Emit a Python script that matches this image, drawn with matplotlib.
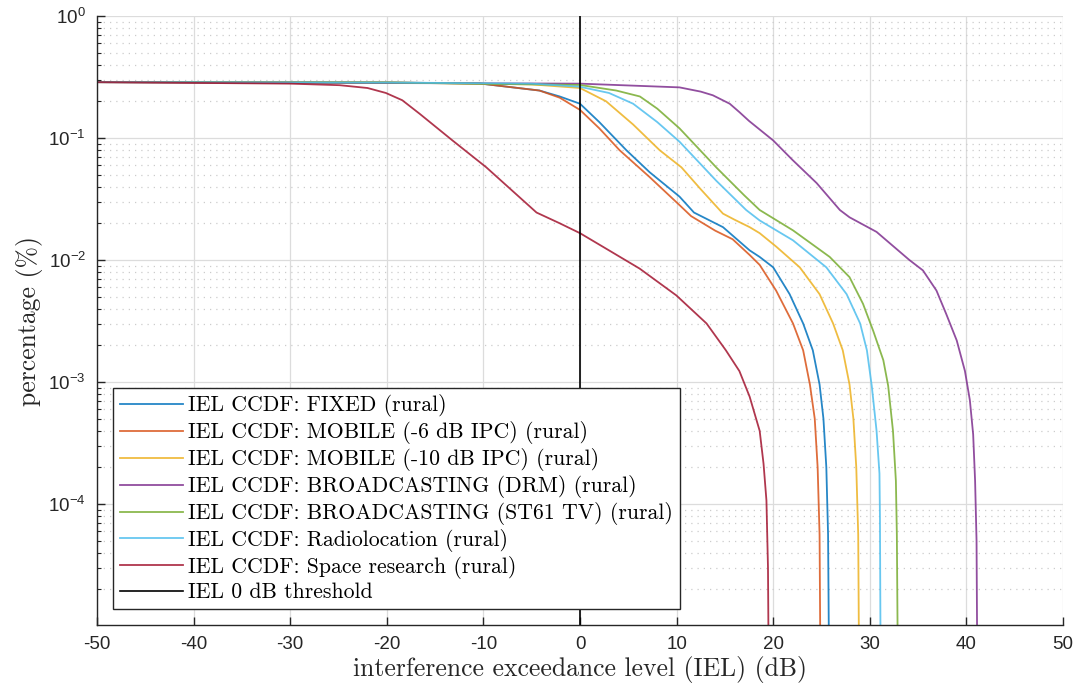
import matplotlib
matplotlib.use("Agg")
import matplotlib.pyplot as plt
import numpy as np
from matplotlib.ticker import FixedLocator, LogLocator, NullFormatter

# data (x in dB, y as CCDF value)
fixed_x = [-50, -20, -10.4, -4.2, -2.1, 0, 2, 4.8, 7.2, 10.3, 11.8, 14.8, 17.56, 18.6, 20.0, 21.7, 23.1, 24.1, 24.8, 25.2, 25.5, 25.68, 25.75, 25.8]
fixed_y = [0.287, 0.285, 0.280, 0.245, 0.219, 0.191, 0.135, 0.0794, 0.0525, 0.0331, 0.0245, 0.0186, 0.0120, 0.0106, 0.00871, 0.00525, 0.00302, 0.00182, 0.000955, 0.000501, 0.000200, 5.62e-5, 1.05e-5, 1e-6]

mob6_x = [-50, -20, -10.4, -4.2, -2.1, 0, 2, 4.1, 7.2, 10.3, 11.5, 14.0, 15.8, 17.56, 18.6, 20.3, 22.05, 23.1, 23.8, 24.3, 24.6, 24.8, 24.86, 24.9]
mob6_y = [0.287, 0.285, 0.280, 0.245, 0.214, 0.170, 0.120, 0.0794, 0.0479, 0.0282, 0.0229, 0.0174, 0.0148, 0.0110, 0.00912, 0.00562, 0.00302, 0.00182, 0.000955, 0.000501, 0.000200, 5.62e-5, 1.05e-5, 1e-6]

mob10_x = [-50, -20, -5, 0, 2.7, 5.5, 8.25, 10.5, 12.5, 14.8, 16.0, 17.56, 18.6, 20.3, 22.75, 24.8, 26.2, 27.2, 27.9, 28.3, 28.6, 28.8, 28.86, 28.9]
mob10_y = [0.287, 0.285, 0.275, 0.257, 0.200, 0.129, 0.0794, 0.0575, 0.0380, 0.0240, 0.0214, 0.0186, 0.0166, 0.0129, 0.00871, 0.00525, 0.00302, 0.00182, 0.000955, 0.000501, 0.000200, 5.62e-5, 1.05e-5, 1e-6]

drm_x = [-50, 0, 10.3, 12.5, 13.75, 15.5, 16.5, 17.5, 20.0, 22.0, 24.5, 26.9, 27.9, 30.7, 34.1, 35.5, 36.9, 37.9, 39.0, 39.85, 40.36, 40.7, 40.9, 41.05, 41.1, 41.15]
drm_y = [0.287, 0.279, 0.260, 0.240, 0.224, 0.191, 0.163, 0.138, 0.0955, 0.0661, 0.0427, 0.0257, 0.0224, 0.0170, 0.0100, 0.00822, 0.00562, 0.00363, 0.00219, 0.00123, 0.000708, 0.000372, 0.000155, 5.01e-5, 1.05e-5, 1e-6]

st61_x = [-50, -20, 0, 3.75, 6.2, 8.0, 10.3, 14.1, 17.0, 18.6, 22.05, 25.85, 27.9, 29.3, 30.35, 31.4, 31.9, 32.4, 32.7, 32.8, 32.87, 32.9]
st61_y = [0.287, 0.285, 0.272, 0.245, 0.219, 0.174, 0.120, 0.0575, 0.0339, 0.0257, 0.0175, 0.0106, 0.00724, 0.00437, 0.00263, 0.00151, 0.000933, 0.000398, 0.000155, 5.62e-5, 1.05e-5, 1e-6]

radio_x = [-50, -20, -5, 0, 3.0, 5.5, 8.0, 10.3, 14.1, 17.2, 18.6, 22.05, 25.5, 27.6, 29.0, 29.7, 30.2, 30.7, 31.0, 31.05, 31.1, 31.15]
radio_y = [0.287, 0.285, 0.279, 0.263, 0.234, 0.191, 0.135, 0.0933, 0.0447, 0.0257, 0.0211, 0.0145, 0.00871, 0.00525, 0.00302, 0.00182, 0.000933, 0.000398, 0.000178, 7.76e-5, 1.05e-5, 1e-6]

space_x = [-50, -30, -24.9, -22, -20.1, -18.4, -16.6, -13.2, -9.7, -4.5, -2.1, 0, 3.0, 6.17, 9.97, 13.1, 15.1, 16.5, 17.56, 18.6, 19.0, 19.3, 19.46, 19.5, 19.55]
space_y = [0.287, 0.279, 0.271, 0.257, 0.234, 0.204, 0.158, 0.0955, 0.0575, 0.0245, 0.0200, 0.0166, 0.0120, 0.00851, 0.00513, 0.00302, 0.00182, 0.00123, 0.000759, 0.000398, 0.000214, 0.000107, 3.02e-5, 1.05e-5, 1e-6]

labels = ["IEL CCDF: FIXED (rural)",
          "IEL CCDF: MOBILE (-6 dB IPC) (rural)",
          "IEL CCDF: MOBILE (-10 dB IPC) (rural)",
          "IEL CCDF: BROADCASTING (DRM) (rural)",
          "IEL CCDF: BROADCASTING (ST61 TV) (rural)",
          "IEL CCDF: Radiolocation (rural)",
          "IEL CCDF: Space research (rural)",
          "IEL 0 dB threshold"]
colors = ["#0072BD", "#D95319", "#EDB120", "#7E2F8E", "#77AC30", "#4DBEEE", "#A2142F"]

plt.rcParams['mathtext.fontset'] = 'custom'
plt.rcParams['mathtext.rm'] = 'Liberation Sans'
plt.rcParams['mathtext.it'] = 'Liberation Sans'
plt.rcParams['mathtext.bf'] = 'Liberation Sans'
plt.rcParams['axes.unicode_minus'] = False

fig = plt.figure(figsize=(10.79, 6.93), dpi=100)
ax = fig.add_axes([97/1079, 1 - 625/693, 966/1079, 609/693])

series = [(fixed_x, fixed_y), (mob6_x, mob6_y), (mob10_x, mob10_y), (drm_x, drm_y),
          (st61_x, st61_y), (radio_x, radio_y), (space_x, space_y)]
for (xs, ys), c, lab in zip(series, colors, labels):
    ax.plot(xs, ys, color=c, lw=1.3, alpha=0.85, label=lab)
ax.plot([0, 0], [1e-6, 1], color='black', lw=1.2, label=labels[-1])

ax.set_yscale('log')
ax.set_xlim(-50, 50)
ax.set_ylim(1.02e-5, 1)
ax.set_xticks(np.arange(-50, 51, 10))
ax.yaxis.set_major_locator(FixedLocator([1e-4, 1e-3, 1e-2, 1e-1, 1e0]))
ax.yaxis.set_minor_locator(LogLocator(base=10, subs=np.arange(2, 10)))
ax.yaxis.set_minor_formatter(NullFormatter())
ax.set_yticklabels([r'$10^{-4}$', r'$10^{-3}$', r'$10^{-2}$', r'$10^{-1}$', r'$10^{0}$'])

ax.grid(True, which='major', color='#dcdcdc', lw=0.9)
ax.grid(True, which='minor', axis='y', color='#cccccc', lw=0.9, ls=(0, (1, 4)))
ax.set_axisbelow(True)

for s in ['top', 'right']:
    ax.spines[s].set_visible(False)
for s in ['left', 'bottom']:
    ax.spines[s].set_color('#262626')
    ax.spines[s].set_linewidth(1.0)
ax.tick_params(which='major', direction='in', length=6, width=1, colors='#262626',
               labelsize=13.5, pad=8)
ax.tick_params(which='minor', direction='in', length=3, width=0.8, colors='#262626')
for lab in ax.get_xticklabels() + ax.get_yticklabels():
    lab.set_fontfamily('Liberation Sans')

ax.set_xlabel('interference exceedance level (IEL) (dB)', family='cmr10', fontsize=18.5, color='#262626', labelpad=2)
ax.set_ylabel('percentage (%)', family='cmr10', fontsize=18.5, color='#262626', labelpad=4)

leg = ax.legend(loc='lower left', bbox_to_anchor=(16/966, 16/609), borderaxespad=0,
                prop={'family': 'cmr10', 'size': 15.7}, fancybox=False, framealpha=1,
                edgecolor='#262626', handlelength=2.9, handletextpad=0.25, labelspacing=0.18,
                borderpad=0.3)
leg.get_frame().set_linewidth(1.0)

fig.savefig('out.png', dpi=100)
